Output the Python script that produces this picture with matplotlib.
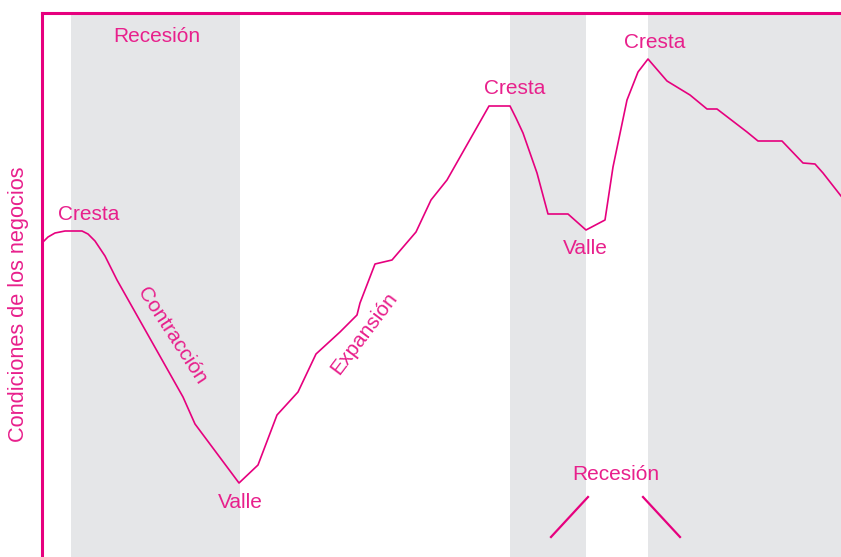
import matplotlib
matplotlib.use('Agg')
import matplotlib.pyplot as plt

# time axis (arbitrary units) and business-condition level
t = [42, 48, 55, 65, 82, 88, 95, 105, 117, 183, 195, 239, 258, 277, 298, 316,
     340, 357, 360, 375, 392, 416, 431, 447, 489, 510, 516, 523, 537, 548, 568,
     586, 605, 613, 627, 638, 648, 667, 690, 707, 717, 747, 758, 782, 803, 815,
     823, 841]
level = [314, 320, 324, 326, 326, 323, 316, 301, 277, 160, 133, 74, 92, 142, 165,
         203, 225, 242, 254, 293, 297, 325, 357, 377, 451, 451, 439, 424, 384, 343,
         343, 327, 337, 390, 457, 485, 498, 476, 462, 448, 448, 425, 416, 416, 394,
         393, 384, 361]

# recession periods (start, end)
recessions = [(71, 240), (510, 586), (648, 841)]

# annotations: text, x, y, rotation
labels = [
    ('Recesión', 157, 521, 0),
    ('Cresta', 89, 343, 0),
    ('Contracción', 172, 221, -57),
    ('Valle', 240, 55, 0),
    ('Expansión', 364, 224, 53),
    ('Cresta', 515, 469, 0),
    ('Valle', 585, 308, 0),
    ('Cresta', 655, 514, 0),
    ('Recesión', 616, 82, 0),
]

MAGENTA = '#e6007e'
TEXT = '#e8208c'
GRAY = '#e5e6e8'

plt.rcParams['font.family'] = ['Liberation Sans', 'DejaVu Sans']

fig = plt.figure(figsize=(8.41, 5.57), dpi=100)
ax = fig.add_axes([42 / 841, 0, 799 / 841, 544 / 557])
ax.set_xlim(42, 841)
ax.set_ylim(0, 544)

for a, b in recessions:
    ax.axvspan(a, b, color=GRAY, lw=0, zorder=0)

ax.plot(t, level, color=MAGENTA, lw=1.2, zorder=3)

for txt, x, y, rot in labels:
    ax.text(x, y, txt, color=TEXT, fontsize=15, rotation=rot,
            ha='center', va='center', rotation_mode='anchor', zorder=4)

# little bracket strokes under the second "Recesión"
ax.plot([551, 588], [20, 60], color=MAGENTA, lw=1.6, zorder=4)
ax.plot([643, 680], [60, 20], color=MAGENTA, lw=1.6, zorder=4)

for side in ['right', 'bottom']:
    ax.spines[side].set_visible(False)
for side in ['left', 'top']:
    ax.spines[side].set_color(MAGENTA)
    ax.spines[side].set_linewidth(2.2)
ax.set_xticks([])
ax.set_yticks([])

fig.text(19 / 841, 1 - 304 / 557, 'Condiciones de los negocios', color=TEXT,
         fontsize=15.7, rotation=90, ha='center', va='center')

fig.savefig('out.png', dpi=100)
